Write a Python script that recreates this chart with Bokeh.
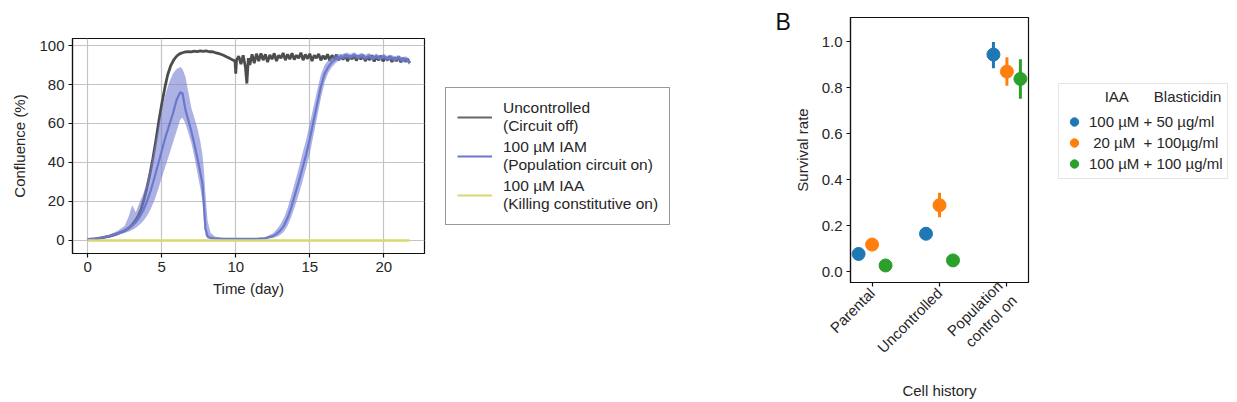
import numpy as np
from bokeh.plotting import figure
from bokeh.models import (ColumnDataSource, Legend, LegendItem, FixedTicker, Range1d,
                          Label, NumeralTickFormatter)
from bokeh.embed import file_html
from bokeh.resources import INLINE
from bokeh.core.templates import get_env

# ---------------- Panel A data ----------------
t_unc = [0.0, 0.5, 1.0, 1.5, 2.0, 2.5, 2.8, 3.0, 3.2, 3.4, 3.6, 3.8, 4.0, 4.2, 4.4, 4.6, 4.8,
         5.0, 5.2, 5.4, 5.6, 5.8, 6.0, 6.2, 6.4, 6.6, 6.8, 7.0, 7.2, 7.4, 7.6, 7.8, 8.0, 8.2,
         8.4, 8.6, 8.8, 9.0, 9.2, 9.4, 9.6, 9.8, 9.95, 10.0, 10.05, 10.2, 10.35, 10.5, 10.65,
         10.75, 10.85, 10.95, 11.1, 11.25, 11.4, 11.55, 11.7, 11.85, 12.0, 12.15, 12.3, 12.45,
         12.6, 12.75, 12.9, 13.05, 13.2, 13.35, 13.5, 13.65, 13.8, 13.95, 14.1, 14.25, 14.4,
         14.55, 14.7, 14.85, 15.0, 15.15, 15.3, 15.45, 15.6, 15.75, 15.9, 16.05, 16.2, 16.35,
         16.5, 16.65, 16.8, 16.95, 17.1, 17.25, 17.4, 17.55, 17.7, 17.85, 18.0, 18.15, 18.3,
         18.45, 18.6, 18.75, 18.9, 19.05, 19.2, 19.35, 19.5, 19.65, 19.8, 19.95, 20.1, 20.25,
         20.4, 20.55, 20.7, 20.85, 21.0, 21.15, 21.3, 21.45, 21.6, 21.75]
conf_unc = [0.5, 0.8, 1.4, 2.2, 3.4, 5.0, 6.5, 8.0, 10.0, 12.5, 16.0, 21.0, 27.0, 34.0, 42.0,
            51.0, 61.0, 70.0, 78.0, 85.0, 89.5, 92.5, 94.5, 95.7, 96.3, 96.7, 96.9, 96.7, 97.1,
            96.9, 97.3, 97.0, 97.2, 96.8, 96.9, 96.4, 96.0, 95.5, 94.9, 94.1, 93.4, 92.6, 92.0,
            85.5, 92.5, 94.5, 90.5, 95.0, 89.0, 80.5, 93.5, 90.0, 95.5, 91.0, 95.8, 92.0, 96.0,
            92.5, 95.5, 91.5, 95.2, 93.0, 96.0, 92.0, 95.0, 93.5, 96.2, 92.5, 95.5, 93.0, 96.0,
            92.8, 95.0, 93.5, 96.3, 92.5, 95.4, 93.2, 95.8, 92.0, 95.0, 93.6, 95.7, 92.4, 94.8,
            93.0, 95.5, 92.2, 95.0, 93.1, 95.3, 92.5, 94.6, 92.8, 95.2, 92.0, 94.5, 93.0, 95.0,
            92.3, 94.7, 92.9, 95.1, 92.0, 94.2, 92.6, 95.0, 91.8, 94.3, 92.5, 94.8, 91.9, 94.0,
            92.4, 94.6, 91.6, 93.8, 92.0, 94.2, 91.5, 93.6, 91.8, 93.2, 91.0]

t_iam = [0.0, 0.5, 1.0, 1.5, 2.0, 2.5, 2.75, 3.0, 3.25, 3.5, 3.75, 4.0, 4.25, 4.5, 4.75, 5.0,
         5.25, 5.5, 5.75, 6.0, 6.25, 6.4, 6.6, 6.8, 7.0, 7.2, 7.4, 7.6, 7.75, 7.85, 7.95, 8.1,
         8.3, 8.6, 9.0, 10.0, 11.0, 11.5, 12.0, 12.5, 12.75, 13.0, 13.25, 13.5, 13.75, 14.0,
         14.25, 14.5, 14.75, 15.0, 15.25, 15.5, 15.75, 16.0, 16.25, 16.5, 16.75, 17.0, 17.25,
         17.5, 17.75, 18.0, 18.25, 18.5, 18.75, 19.0, 19.25, 19.5, 19.75, 20.0, 20.25, 20.5,
         20.75, 21.0, 21.25, 21.5, 21.75]
iam_mean = [0.5, 0.9, 1.5, 2.4, 3.6, 5.2, 6.3, 7.6, 9.4, 12.0, 15.5, 20.0, 25.5, 32.0, 39.0,
            46.0, 53.0, 59.0, 65.0, 72.0, 76.0, 75.5, 67.0, 61.5, 56.0, 49.5, 42.5, 35.0, 29.0,
            18.0, 6.0, 2.0, 1.3, 1.0, 0.9, 0.8, 0.8, 0.9, 1.1, 2.2, 3.4, 5.0, 7.5, 11.5, 17.0,
            23.5, 30.0, 37.0, 44.0, 52.0, 61.0, 70.0, 79.0, 85.5, 89.0, 91.5, 93.0, 94.0, 94.3,
            95.0, 94.2, 95.3, 94.0, 95.0, 93.8, 94.8, 93.5, 94.6, 93.4, 94.5, 93.2, 94.0, 93.0,
            93.8, 92.6, 93.2, 91.5]
iam_lo = [0.3, 0.6, 1.0, 1.7, 2.6, 3.8, 4.5, 5.3, 6.5, 8.0, 10.0, 12.5, 16.0, 20.5, 26.0, 32.0,
          38.0, 44.0, 50.0, 56.0, 62.0, 63.0, 60.0, 55.0, 50.0, 43.0, 35.0, 27.0, 20.0, 10.0,
          2.5, 1.0, 0.7, 0.6, 0.5, 0.5, 0.5, 0.6, 0.7, 1.2, 1.8, 2.8, 4.5, 7.5, 12.0, 17.5,
          23.5, 30.0, 37.0, 44.5, 54.0, 63.5, 73.0, 81.0, 86.0, 89.0, 91.0, 92.4, 93.0, 93.5,
          92.8, 93.9, 92.6, 93.6, 92.4, 93.4, 92.0, 93.2, 92.0, 93.1, 91.8, 92.6, 91.6, 92.4,
          91.2, 91.8, 90.0]
iam_hi = [0.7, 1.2, 2.0, 3.2, 4.8, 7.5, 12.0, 18.0, 14.5, 19.5, 24.0, 30.0, 38.0, 47.0, 57.0,
          67.0, 75.0, 81.0, 85.5, 88.0, 89.0, 88.0, 84.0, 76.0, 68.0, 63.0, 58.0, 51.0, 44.0,
          36.0, 24.0, 10.0, 4.0, 2.0, 1.4, 1.2, 1.2, 1.3, 1.8, 3.6, 5.5, 8.0, 11.5, 16.5, 23.0,
          30.0, 37.0, 44.5, 51.5, 60.0, 68.5, 77.0, 85.0, 90.0, 92.5, 94.0, 95.0, 95.6, 95.8,
          96.4, 95.6, 96.6, 95.4, 96.3, 95.2, 96.1, 94.9, 95.9, 94.8, 95.8, 94.6, 95.3, 94.4,
          95.1, 94.0, 94.5, 93.0]

t_iaa = [0.0, 5.0, 10.0, 15.0, 20.0, 21.75]
conf_iaa = [0.0, 0.0, 0.0, 0.0, 0.0, 0.0]

labels_a = ["Uncontrolled\n(Circuit off)",
            "100 \u00b5M IAM\n(Population circuit on)",
            "100 \u00b5M IAA\n(Killing constitutive on)"]
x_ticks_a = [0, 5, 10, 15, 20]
y_ticks_a = [0, 20, 40, 60, 80, 100]

# ---------------- Panel B data ----------------
categories = ["Parental", "Uncontrolled", "Population\ncontrol on"]
legend_title_b = "\u00a0" * 10 + "IAA" + "\u00a0" * 6 + "Blasticidin"
series_labels = ["100 \u00b5M + 50 \u00b5g/ml",
                 "\u00a020 \u00b5M \u00a0+ 100\u00b5g/ml",
                 "100 \u00b5M + 100 \u00b5g/ml"]
surv_blue = [0.078, 0.166, 0.945]
surv_blue_lo = [0.070, 0.156, 0.885]
surv_blue_hi = [0.086, 0.176, 1.000]
surv_orange = [0.119, 0.290, 0.871]
surv_orange_lo = [0.110, 0.238, 0.809]
surv_orange_hi = [0.128, 0.344, 0.933]
surv_green = [0.028, 0.050, 0.839]
surv_green_lo = [0.022, 0.044, 0.753]
surv_green_hi = [0.034, 0.056, 0.925]
y_ticks_b = [0.0, 0.2, 0.4, 0.6, 0.8, 1.0]

FONT = "Liberation Sans"
TXT = "#262626"
FS = "15px"
H = 402


def style_axes(p):
    for ax in (p.xaxis, p.yaxis):
        ax.axis_line_color = "#111111"
        ax.axis_line_width = 1.2
        ax.major_tick_line_color = "#111111"
        ax.major_tick_line_width = 1.2
        ax.major_tick_out = 4
        ax.major_tick_in = 0
        ax.minor_tick_line_color = None
        ax.major_label_text_font = FONT
        ax.major_label_text_font_size = FS
        ax.major_label_text_color = TXT
        ax.axis_label_text_font = FONT
        ax.axis_label_text_font_size = FS
        ax.axis_label_text_font_style = "normal"
        ax.axis_label_text_color = TXT
        ax.major_label_standoff = 4
    p.outline_line_color = "#111111"
    p.outline_line_width = 1.2
    p.outline_line_alpha = 1.0


def blank_fig(width):
    # a frame-only canvas (no axes) used to hold legends / panel letter
    f = figure(width=width, height=H, output_backend="svg", toolbar_location=None,
               x_range=Range1d(1000, 1000 + width), y_range=Range1d(1000, 1000 + H),
               x_axis_location=None, y_axis_location=None, min_border=0)
    f.outline_line_color = None
    f.grid.visible = False
    return f


# ---------------- Panel A ----------------
pa = figure(width=440, height=H, output_backend="svg", toolbar_location=None,
            x_range=Range1d(-1.03, 22.75), y_range=Range1d(-6.7, 103.6),
            min_border_left=72, min_border_right=16, min_border_top=38,
            min_border_bottom=149)
style_axes(pa)
pa.xaxis.ticker = FixedTicker(ticks=x_ticks_a)
pa.yaxis.ticker = FixedTicker(ticks=y_ticks_a)
pa.xaxis.axis_label = "Time (day)"
pa.yaxis.axis_label = "Confluence (%)"
pa.yaxis.axis_label_standoff = 8
pa.xaxis.axis_label_standoff = 5
pa.grid.grid_line_color = "#c4c4c4"
pa.grid.grid_line_width = 1.2

src_unc = ColumnDataSource(dict(t=t_unc, y=conf_unc))
src_iam = ColumnDataSource(dict(t=t_iam, y=iam_mean, lo=iam_lo, hi=iam_hi))
src_iaa = ColumnDataSource(dict(t=t_iaa, y=conf_iaa))

sty_unc = dict(line_color="#4d4d4d", line_width=2.8)
sty_iam = dict(line_color="#6c78cc", line_width=2.2)
sty_iaa = dict(line_color="#d8d870", line_width=2.4)

pa.line("t", "y", source=src_unc, **sty_unc)
pa.varea(x="t", y1="lo", y2="hi", source=src_iam, fill_color="#7580d2", fill_alpha=0.6)
pa.line("t", "y", source=src_iam, **sty_iam)
pa.line("t", "y", source=src_iaa, **sty_iaa)

# legend canvas for panel A (also holds the "B" letter)
la = blank_fig(350)
lr_unc = la.line("t", "y", source=src_unc, line_color="#666666", line_width=2.2)
lr_iam = la.line("t", "y", source=src_iam, line_color="#6c78cc", line_width=2.2)
lr_iaa = la.line("t", "y", source=src_iaa, line_color="#d8d870", line_width=2.2)
leg_a = Legend(items=[LegendItem(label=labels_a[0], renderers=[lr_unc]),
                      LegendItem(label=labels_a[1], renderers=[lr_iam]),
                      LegendItem(label=labels_a[2], renderers=[lr_iaa])],
               location=(5, 177))
leg_a.label_text_font = FONT
leg_a.label_text_font_size = "15.5px"
leg_a.label_text_color = TXT
leg_a.label_standoff = 11
leg_a.glyph_width = 35
leg_a.glyph_height = 20
leg_a.padding = 11
leg_a.spacing = 3
leg_a.margin = 0
leg_a.border_line_color = "#333333"
leg_a.border_line_width = 1.2
leg_a.background_fill_alpha = 1.0
la.add_layout(leg_a, "center")
la.add_layout(Label(x=1335, y=1000 + H - 21, text="B", text_font=FONT,
                    text_font_size="23px", text_color="#111111",
                    text_baseline="alphabetic"))

# ---------------- Panel B ----------------
pb = figure(width=260, height=H, output_backend="svg", toolbar_location=None,
            x_range=Range1d(-0.32, 2.32), y_range=Range1d(-0.046, 1.106),
            min_border_left=55, min_border_right=22, min_border_top=17,
            min_border_bottom=117)
style_axes(pb)
pb.grid.grid_line_color = None
pb.xaxis.ticker = FixedTicker(ticks=[0, 1, 2])
pb.xaxis.major_label_overrides = {i: c for i, c in enumerate(categories)}
pb.xaxis.major_label_orientation = np.pi / 4
pb.yaxis.ticker = FixedTicker(ticks=y_ticks_b)
pb.yaxis.formatter = NumeralTickFormatter(format="0.0")
pb.xaxis.axis_label = "Cell history"
pb.yaxis.axis_label = "Survival rate"
pb.yaxis.axis_label_standoff = 8
pb.xaxis.axis_label_standoff = 12

lb = blank_fig(187)
colors = ["#1f77b4", "#ff7f0e", "#2ca02c"]
dodge = [-0.2, 0.0, 0.2]
vals = [surv_blue, surv_orange, surv_green]
los = [surv_blue_lo, surv_orange_lo, surv_green_lo]
his = [surv_blue_hi, surv_orange_hi, surv_green_hi]
items_b = []
for i in range(3):
    xs = [k + dodge[i] for k in range(len(categories))]
    src = ColumnDataSource(dict(x=xs, y=vals[i], lo=los[i], hi=his[i]))
    pb.segment(x0="x", y0="lo", x1="x", y1="hi", source=src, line_color=colors[i], line_width=3)
    pb.scatter("x", "y", source=src, size=13, fill_color=colors[i], line_color=colors[i])
    r = lb.scatter("x", "y", source=src, size=13, fill_color=colors[i], line_color=colors[i])
    items_b.append(LegendItem(label=series_labels[i], renderers=[r]))

leg_b = Legend(items=items_b, location=(8, 223))
leg_b.title = legend_title_b
leg_b.title_text_font = FONT
leg_b.title_text_font_size = FS
leg_b.title_text_font_style = "normal"
leg_b.title_text_color = TXT
leg_b.title_standoff = 6
leg_b.label_text_font = FONT
leg_b.label_text_font_size = FS
leg_b.label_text_color = TXT
leg_b.label_standoff = 4
leg_b.glyph_width = 22
leg_b.glyph_height = 21
leg_b.label_height = 17
leg_b.padding = 4
leg_b.spacing = 0
leg_b.margin = 0
leg_b.border_line_color = "#cccccc"
leg_b.border_line_width = 1.2
lb.add_layout(leg_b, "center")

tmpl = get_env().from_string(
    '{% extends "file.html" %}'
    '{% block postamble %}<style>body { display: flex !important; flex-direction: row; '
    'align-items: flex-start; margin: 0; }</style>{% endblock %}')

open("out.html", "w").write(file_html([pa, la, pb, lb], INLINE, template=tmpl))
